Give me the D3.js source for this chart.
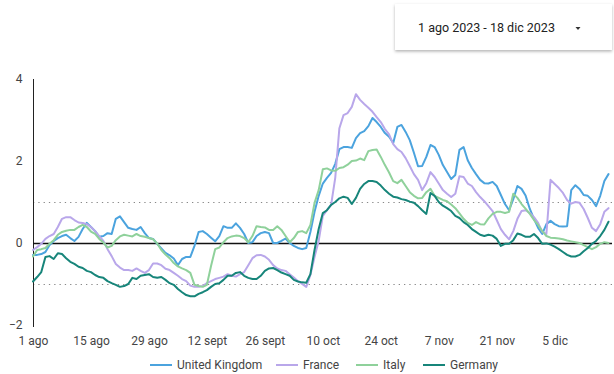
<!DOCTYPE html>
<html><head><meta charset="utf-8">
<script src="https://cdn.jsdelivr.net/npm/d3@7"></script>
<style>
html,body{margin:0;padding:0;background:#fff;}
svg{display:block;font-family:Roboto,"Noto Sans",sans-serif;}
</style></head><body>
<svg id="chart" width="614" height="374"></svg>
<script>
// Daily index, 1 Aug 2023 – 18 Dec 2023
const startDate = new Date(2023, 7, 1);
const endDate = new Date(2023, 11, 18);
const days = d3.timeDay.range(startDate, d3.timeDay.offset(endDate, 1));

const seriesNames = ["United Kingdom", "France", "Italy", "Germany"];
const seriesColors = ["#4ba3de", "#b9a7ea", "#8fd19b", "#17857a"];

const ukValues = [
 -0.29,-0.29,-0.27,-0.22,-0.05,0.05,0.12,0.17,0.20,0.12,
 0.05,0.15,0.34,0.49,0.39,0.29,0.15,0.17,0.24,0.22,
 0.59,0.65,0.51,0.37,0.34,0.32,0.39,0.24,0.12,0.10,
 -0.02,-0.13,-0.24,-0.30,-0.38,-0.54,-0.39,-0.34,-0.34,-0.07,
 0.27,0.29,0.22,0.13,0.04,0.17,0.41,0.37,0.37,0.48,
 0.37,0.22,0.00,0.02,0.17,0.24,0.27,0.24,0.00,0.00,
 0.05,0.11,0.00,-0.07,-0.12,-0.15,-0.12,0.27,0.76,1.15,
 1.45,1.59,1.71,1.93,2.29,2.34,2.34,2.32,2.56,2.68,
 2.73,2.85,3.05,2.95,2.83,2.68,2.59,2.44,2.83,2.88,
 2.71,2.51,2.20,1.87,1.88,2.10,2.39,2.34,2.15,1.90,
 1.73,1.56,1.66,2.27,2.34,2.02,1.83,1.68,1.54,1.46,
 1.45,1.49,1.39,1.17,0.95,0.80,1.07,1.39,1.32,1.15,
 0.83,0.59,0.37,0.22,0.46,0.54,0.46,0.41,0.40,0.41,
 1.29,1.41,1.32,1.17,1.15,1.05,0.90,1.15,1.51,1.68
];
const franceValues = [
 -0.17,-0.10,-0.02,0.10,0.17,0.22,0.39,0.59,0.63,0.63,
 0.56,0.50,0.49,0.46,0.39,0.29,0.17,0.05,-0.15,-0.32,
 -0.51,-0.60,-0.66,-0.66,-0.68,-0.62,-0.68,-0.73,-0.66,-0.50,
 -0.50,-0.54,-0.63,-0.66,-0.73,-0.80,-0.88,-0.93,-1.04,-1.07,
 -1.07,-1.05,-0.98,-0.93,-0.88,-0.85,-0.82,-0.76,-0.80,-0.82,
 -0.76,-0.71,-0.54,-0.37,-0.30,-0.29,-0.33,-0.41,-0.54,-0.62,
 -0.66,-0.68,-0.76,-0.84,-0.93,-1.00,-1.07,-0.78,-0.34,0.05,
 0.66,0.80,0.93,1.59,2.80,3.12,3.17,3.32,3.63,3.49,
 3.39,3.30,3.20,3.07,2.95,2.78,2.65,2.41,2.29,2.22,
 2.07,1.88,1.68,1.54,1.29,1.46,1.73,1.61,1.45,1.29,
 1.20,1.12,1.20,1.63,1.61,1.45,1.39,1.24,1.12,1.02,
 0.90,0.78,0.56,0.34,0.20,0.09,0.29,0.59,0.78,0.80,
 0.73,0.63,0.49,0.27,0.22,1.54,1.44,1.34,1.22,1.05,
 0.96,1.00,0.98,0.83,0.61,0.37,0.29,0.46,0.76,0.85
];
const italyValues = [
 -0.33,-0.17,-0.15,-0.12,-0.02,0.07,0.20,0.27,0.30,0.32,
 0.32,0.39,0.44,0.39,0.28,0.22,0.10,0.01,-0.11,-0.07,
 0.07,0.16,0.20,0.18,0.16,0.22,0.17,0.15,0.12,0.09,
 -0.01,-0.17,-0.28,-0.37,-0.49,-0.57,-0.62,-0.66,-0.73,-1.02,
 -1.05,-1.07,-1.02,-0.56,-0.15,-0.11,0.02,0.12,0.16,0.18,
 0.17,0.12,0.02,0.17,0.41,0.39,0.38,0.32,0.32,0.41,
 0.32,0.17,0.02,0.12,0.27,0.29,0.24,0.44,0.98,1.29,
 1.80,1.82,1.77,1.76,1.83,1.85,1.91,2.00,2.01,2.06,
 2.02,2.24,2.27,2.28,2.10,1.90,1.72,1.51,1.46,1.54,
 1.39,1.24,1.15,1.09,1.10,1.24,1.32,1.15,1.10,1.05,
 1.02,0.94,0.85,0.72,0.59,0.49,0.44,0.51,0.46,0.45,
 0.60,0.71,0.76,0.76,0.73,0.76,1.20,1.10,0.95,0.83,
 0.71,0.56,0.44,0.29,0.17,0.13,0.12,0.11,0.09,0.06,
 0.04,0.02,0.00,-0.05,-0.10,-0.15,-0.10,-0.02,0.02,0.00
];
const germanyValues = [
 -0.94,-0.83,-0.71,-0.34,-0.32,-0.39,-0.25,-0.27,-0.37,-0.46,
 -0.51,-0.58,-0.61,-0.68,-0.71,-0.78,-0.83,-0.85,-0.93,-0.98,
 -1.02,-1.07,-1.05,-1.00,-0.85,-0.88,-0.80,-0.78,-0.76,-0.83,
 -0.85,-0.83,-0.90,-0.98,-1.02,-1.12,-1.20,-1.27,-1.30,-1.30,
 -1.24,-1.20,-1.15,-1.07,-1.00,-0.98,-0.90,-0.80,-0.80,-0.73,
 -0.71,-0.80,-0.85,-0.88,-0.88,-0.80,-0.68,-0.62,-0.61,-0.66,
 -0.72,-0.76,-0.80,-0.90,-0.94,-0.96,-0.97,-0.76,-0.17,0.34,
 0.73,0.80,0.93,1.00,1.09,1.13,1.10,0.95,1.10,1.32,
 1.44,1.51,1.51,1.49,1.40,1.29,1.20,1.13,1.11,1.07,
 1.05,1.01,0.98,0.90,0.80,0.71,1.22,1.15,1.00,0.91,
 0.85,0.78,0.66,0.61,0.51,0.44,0.34,0.27,0.20,0.17,
 0.20,0.18,0.10,-0.07,-0.02,-0.02,0.07,0.23,0.20,0.15,
 0.15,0.22,0.12,-0.02,-0.01,-0.04,-0.09,-0.15,-0.22,-0.29,
 -0.33,-0.33,-0.29,-0.20,-0.12,-0.02,0.05,0.17,0.32,0.52
];
const seriesValues = [ukValues, franceValues, italyValues, germanyValues];

const yTicks = [4, 2, 0, -2];
const referenceLevels = [1, -1];
const xTickDates = ["2023-08-01","2023-08-15","2023-08-29","2023-09-12","2023-09-26",
                    "2023-10-10","2023-10-24","2023-11-07","2023-11-21","2023-12-05"];
const xTickLabels = ["1 ago","15 ago","29 ago","12 sept","26 sept","10 oct","24 oct","7 nov","21 nov","5 dic"];
const rangeLabel = "1 ago 2023 - 18 dic 2023";

const svg = d3.select("#chart");
const left = 33, right = 608.5, plotRight = 612;

const x = d3.scaleTime().domain([startDate, endDate]).range([left, right]);
const y = d3.scaleLinear().domain([-2, 4]).range([325, 79]);

// date-range selector box
const defs = svg.append("defs");
const f = defs.append("filter").attr("id", "shadow").attr("x", "-10%").attr("y", "-20%").attr("width", "120%").attr("height", "160%");
f.append("feDropShadow").attr("dx", 0).attr("dy", 1.5).attr("stdDeviation", 1.6).attr("flood-color", "#000").attr("flood-opacity", 0.3);
svg.append("rect").attr("x", 395).attr("y", 4).attr("width", 217).attr("height", 46)
  .attr("fill", "#fff").attr("filter", "url(#shadow)");
svg.append("text").attr("x", 418).attr("y", 28).attr("dy", "0.35em")
  .attr("font-size", 12.5).attr("fill", "#222").text(rangeLabel);
svg.append("path").attr("d", "M575.5,27 L580.5,27 L578,30 Z").attr("fill", "#333");

// dotted reference lines
svg.append("g").selectAll("line").data(referenceLevels).join("line")
  .attr("x1", left).attr("x2", plotRight)
  .attr("y1", d => y(d) + 0.5).attr("y2", d => y(d) + 0.5)
  .attr("stroke", "#888").attr("stroke-width", 1).attr("stroke-dasharray", "1.3,4");

// y axis
const yAxis = d3.axisLeft(y).tickValues(yTicks).tickSize(0).tickPadding(11).tickFormat(d3.format("d"));
const gy = svg.append("g").attr("transform", `translate(${left + 0.5},0)`).call(yAxis);
gy.select(".domain").attr("stroke", "#222").attr("d", `M0,${y(4)}V${y(-2) + 2}`);
gy.selectAll("text").attr("font-size", 12).attr("fill", "#444").attr("font-family", "Roboto,sans-serif");

// x axis labels
const xAxis = d3.axisBottom(x).tickValues(xTickDates.map(d => d3.timeParse("%Y-%m-%d")(d)))
  .tickSize(0).tickPadding(9).tickFormat((d, i) => xTickLabels[i]);
const gx = svg.append("g").attr("transform", "translate(0,327)").call(xAxis);
gx.select(".domain").remove();
gx.selectAll("text").attr("font-size", 12).attr("fill", "#444").attr("font-family", "Roboto,sans-serif");

// zero baseline
svg.append("line").attr("x1", left).attr("x2", plotRight).attr("y1", y(0) + 0.5).attr("y2", y(0) + 0.5)
  .attr("stroke", "#111").attr("stroke-width", 1.3);

// series lines
const line = d3.line().x((d, i) => x(days[i])).y(d => y(d));
svg.append("g").selectAll("path").data(seriesValues).join("path")
  .attr("d", line).attr("fill", "none")
  .attr("stroke", (d, i) => seriesColors[i]).attr("stroke-width", 2)
  .attr("stroke-linejoin", "round").attr("stroke-linecap", "round");

// legend
const legendX = [150, 276, 356, 423];
const lg = svg.append("g").selectAll("g").data(seriesNames).join("g")
  .attr("transform", (d, i) => `translate(${legendX[i]},365)`);
lg.append("line").attr("x1", 0).attr("x2", 22).attr("y1", 0).attr("y2", 0)
  .attr("stroke", (d, i) => seriesColors[i]).attr("stroke-width", 2);
lg.append("text").attr("x", 27).attr("dy", "0.35em").attr("font-size", 12).attr("fill", "#444").text(d => d);
</script>
</body></html>
